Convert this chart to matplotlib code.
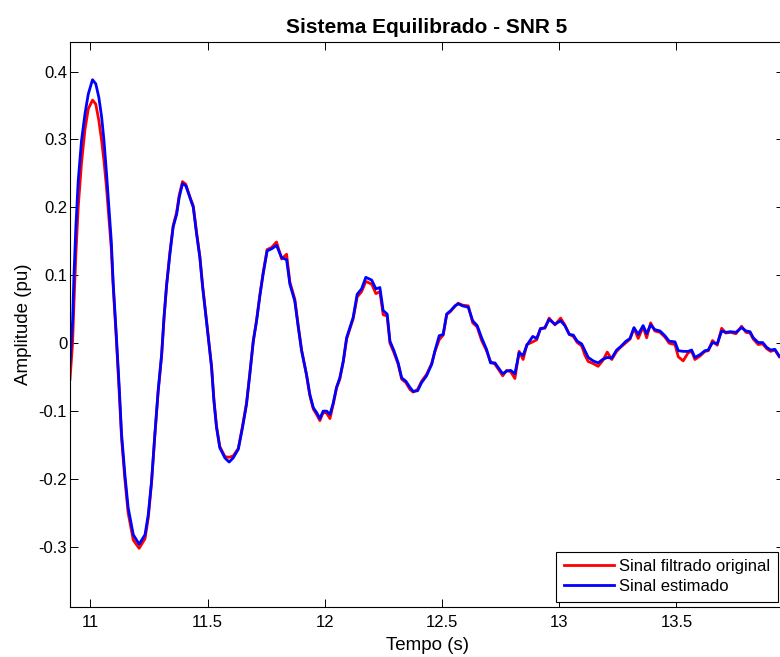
import matplotlib
matplotlib.use('Agg')
import matplotlib.pyplot as plt

plt.rcParams['font.family'] = ['Liberation Sans', 'DejaVu Sans']

# tempo (s)
tempo = [10.913, 10.924, 10.930, 10.938, 10.948, 10.962, 10.977, 10.991, 11.009, 11.023,
         11.036, 11.048, 11.058, 11.069, 11.079, 11.089, 11.097, 11.110, 11.123, 11.133,
         11.147, 11.161, 11.183, 11.208, 11.233, 11.247, 11.261, 11.275, 11.289, 11.304,
         11.314, 11.325, 11.339, 11.353, 11.368, 11.379, 11.393, 11.407, 11.424, 11.439,
         11.453, 11.467, 11.479, 11.496, 11.517, 11.527, 11.538, 11.552, 11.574, 11.592,
         11.609, 11.631, 11.649, 11.666, 11.680, 11.695, 11.709, 11.723, 11.737, 11.754,
         11.773, 11.794, 11.816, 11.837, 11.851, 11.872, 11.887, 11.901, 11.922, 11.936,
         11.951, 11.965, 11.979, 11.993, 12.008, 12.022, 12.036, 12.050, 12.064, 12.079,
         12.093, 12.107, 12.121, 12.138, 12.157, 12.175, 12.200, 12.218, 12.235, 12.249,
         12.266, 12.278, 12.295, 12.313, 12.328, 12.346, 12.363, 12.377, 12.396, 12.413,
         12.434, 12.456, 12.470, 12.488, 12.505, 12.520, 12.537, 12.555, 12.569, 12.588,
         12.612, 12.631, 12.650, 12.669, 12.690, 12.707, 12.726, 12.740, 12.759, 12.776,
         12.793, 12.811, 12.829, 12.846, 12.862, 12.887, 12.904, 12.920, 12.939, 12.957,
         12.982, 13.006, 13.024, 13.043, 13.060, 13.077, 13.096, 13.110, 13.124, 13.145,
         13.166, 13.185, 13.205, 13.224, 13.245, 13.262, 13.285, 13.302, 13.319, 13.337,
         13.358, 13.373, 13.390, 13.408, 13.430, 13.451, 13.469, 13.494, 13.508, 13.529,
         13.550, 13.565, 13.579, 13.600, 13.622, 13.636, 13.654, 13.674, 13.693, 13.711,
         13.731, 13.754, 13.778, 13.797, 13.814, 13.828, 13.849, 13.868, 13.885, 13.902,
         13.920, 13.939]

# Sinal estimado (azul)
estimado = [-0.030, 0.033, 0.101, 0.171, 0.239, 0.298, 0.338, 0.367, 0.388, 0.382,
            0.362, 0.333, 0.298, 0.249, 0.200, 0.151, 0.090, 0.015, -0.065, -0.134,
            -0.193, -0.242, -0.282, -0.296, -0.282, -0.252, -0.203, -0.134, -0.070, -0.016,
            0.038, 0.085, 0.131, 0.171, 0.190, 0.215, 0.235, 0.232, 0.215, 0.200,
            0.161, 0.126, 0.082, 0.030, -0.036, -0.085, -0.124, -0.154, -0.169, -0.175,
            -0.169, -0.156, -0.124, -0.090, -0.046, 0.003, 0.033, 0.070, 0.102, 0.136,
            0.139, 0.144, 0.126, 0.123, 0.087, 0.062, 0.023, -0.011, -0.046, -0.075,
            -0.095, -0.102, -0.111, -0.100, -0.100, -0.105, -0.088, -0.065, -0.051, -0.026,
            0.008, 0.023, 0.038, 0.072, 0.080, 0.097, 0.093, 0.080, 0.082, 0.048,
            0.043, 0.003, -0.011, -0.029, -0.051, -0.056, -0.065, -0.071, -0.070, -0.058,
            -0.048, -0.031, -0.011, 0.011, 0.013, 0.043, 0.048, 0.055, 0.058, 0.055,
            0.053, 0.033, 0.026, 0.008, -0.009, -0.029, -0.029, -0.036, -0.045, -0.041,
            -0.040, -0.045, -0.014, -0.018, -0.003, 0.010, 0.007, 0.021, 0.023, 0.035,
            0.028, 0.033, 0.026, 0.013, 0.012, 0.003, -0.001, -0.011, -0.021, -0.026,
            -0.029, -0.024, -0.021, -0.022, -0.010, -0.005, 0.003, 0.007, 0.023, 0.013,
            0.026, 0.014, 0.027, 0.020, 0.018, 0.011, 0.003, 0.002, -0.011, -0.012,
            -0.012, -0.010, -0.021, -0.017, -0.011, -0.010, 0.001, -0.001, 0.018, 0.016,
            0.017, 0.016, 0.023, 0.018, 0.017, 0.008, 0.001, 0.001, -0.006, -0.010,
            -0.009, -0.019]

# Sinal filtrado original (vermelho)
original = [-0.053, 0.000, 0.060, 0.130, 0.200, 0.265, 0.315, 0.345, 0.358, 0.352,
            0.328, 0.298, 0.268, 0.228, 0.185, 0.140, 0.085, 0.010, -0.072, -0.140,
            -0.200, -0.250, -0.290, -0.302, -0.288, -0.257, -0.205, -0.136, -0.072, -0.018,
            0.036, 0.085, 0.133, 0.173, 0.193, 0.218, 0.238, 0.234, 0.216, 0.202,
            0.163, 0.128, 0.084, 0.031, -0.034, -0.083, -0.122, -0.152, -0.167, -0.168,
            -0.166, -0.155, -0.122, -0.088, -0.045, 0.004, 0.034, 0.071, 0.104, 0.138,
            0.141, 0.149, 0.124, 0.131, 0.090, 0.065, 0.025, -0.010, -0.047, -0.077,
            -0.097, -0.105, -0.114, -0.102, -0.103, -0.111, -0.090, -0.066, -0.053, -0.027,
            0.006, 0.021, 0.036, 0.068, 0.076, 0.091, 0.087, 0.073, 0.076, 0.042,
            0.040, 0.000, -0.014, -0.031, -0.053, -0.058, -0.068, -0.072, -0.068, -0.056,
            -0.046, -0.030, -0.012, 0.005, 0.012, 0.042, 0.047, 0.054, 0.059, 0.056,
            0.055, 0.030, 0.024, 0.004, -0.011, -0.027, -0.031, -0.038, -0.048, -0.040,
            -0.042, -0.052, -0.012, -0.024, -0.002, 0.002, 0.005, 0.022, 0.022, 0.037,
            0.027, 0.037, 0.027, 0.013, 0.010, 0.001, -0.004, -0.018, -0.027, -0.030,
            -0.034, -0.026, -0.013, -0.024, -0.012, -0.006, 0.001, 0.006, 0.022, 0.007,
            0.024, 0.008, 0.030, 0.018, 0.016, 0.009, 0.000, -0.002, -0.020, -0.026,
            -0.014, -0.012, -0.024, -0.019, -0.012, -0.011, 0.004, -0.003, 0.022, 0.015,
            0.016, 0.014, 0.025, 0.016, 0.015, 0.006, -0.002, -0.001, -0.008, -0.012,
            -0.010, -0.020]

x_ticks = [11, 11.5, 12, 12.5, 13, 13.5]
x_labels = ['11', '11.5', '12', '12.5', '13', '13.5']
y_ticks = [-0.3, -0.2, -0.1, 0, 0.1, 0.2, 0.3, 0.4]
y_labels = ['-0.3', '-0.2', '-0.1', '0', '0.1', '0.2', '0.3', '0.4']

fig = plt.figure(figsize=(7.8, 6.57), dpi=100)
# eixo sai um pouco pela direita (figura original cortada)
ax = fig.add_axes([70 / 780, 50.3 / 657, 714 / 780, 565 / 657])

ax.plot(tempo, original, color='#ff0000', linewidth=2, label='Sinal filtrado original')
ax.plot(tempo, estimado, color='#0000ff', linewidth=2, label='Sinal estimado')

ax.set_xlim(10.913, 13.959)
ax.set_ylim(-0.388, 0.444)
ax.set_xticks(x_ticks)
ax.set_xticklabels(x_labels)
ax.set_yticks(y_ticks)
ax.set_yticklabels(y_labels)
ax.tick_params(direction='in', length=5.5, width=0.7, top=True, right=True, labelsize=12)
ax.tick_params(axis='x', pad=6)
ax.tick_params(axis='y', pad=2)
for s in ax.spines.values():
    s.set_linewidth(0.8)

ax.set_xlabel('Tempo (s)', fontsize=13.5, labelpad=5)
ax.set_ylabel('Amplitude (pu)', fontsize=13.5, labelpad=5)
ax.set_title('Sistema Equilibrado - SNR 5', fontsize=15, fontweight='bold', pad=6)

leg = ax.legend(loc='lower right', bbox_to_anchor=(778 / 780, 55.3 / 657),
                bbox_transform=fig.transFigure, borderaxespad=0, fontsize=12,
                fancybox=False, framealpha=1, edgecolor='black',
                handlelength=3.0, handletextpad=0.35, labelspacing=0.3, borderpad=0.45)
leg.get_frame().set_linewidth(0.8)

fig.savefig('out.png', dpi=100)
